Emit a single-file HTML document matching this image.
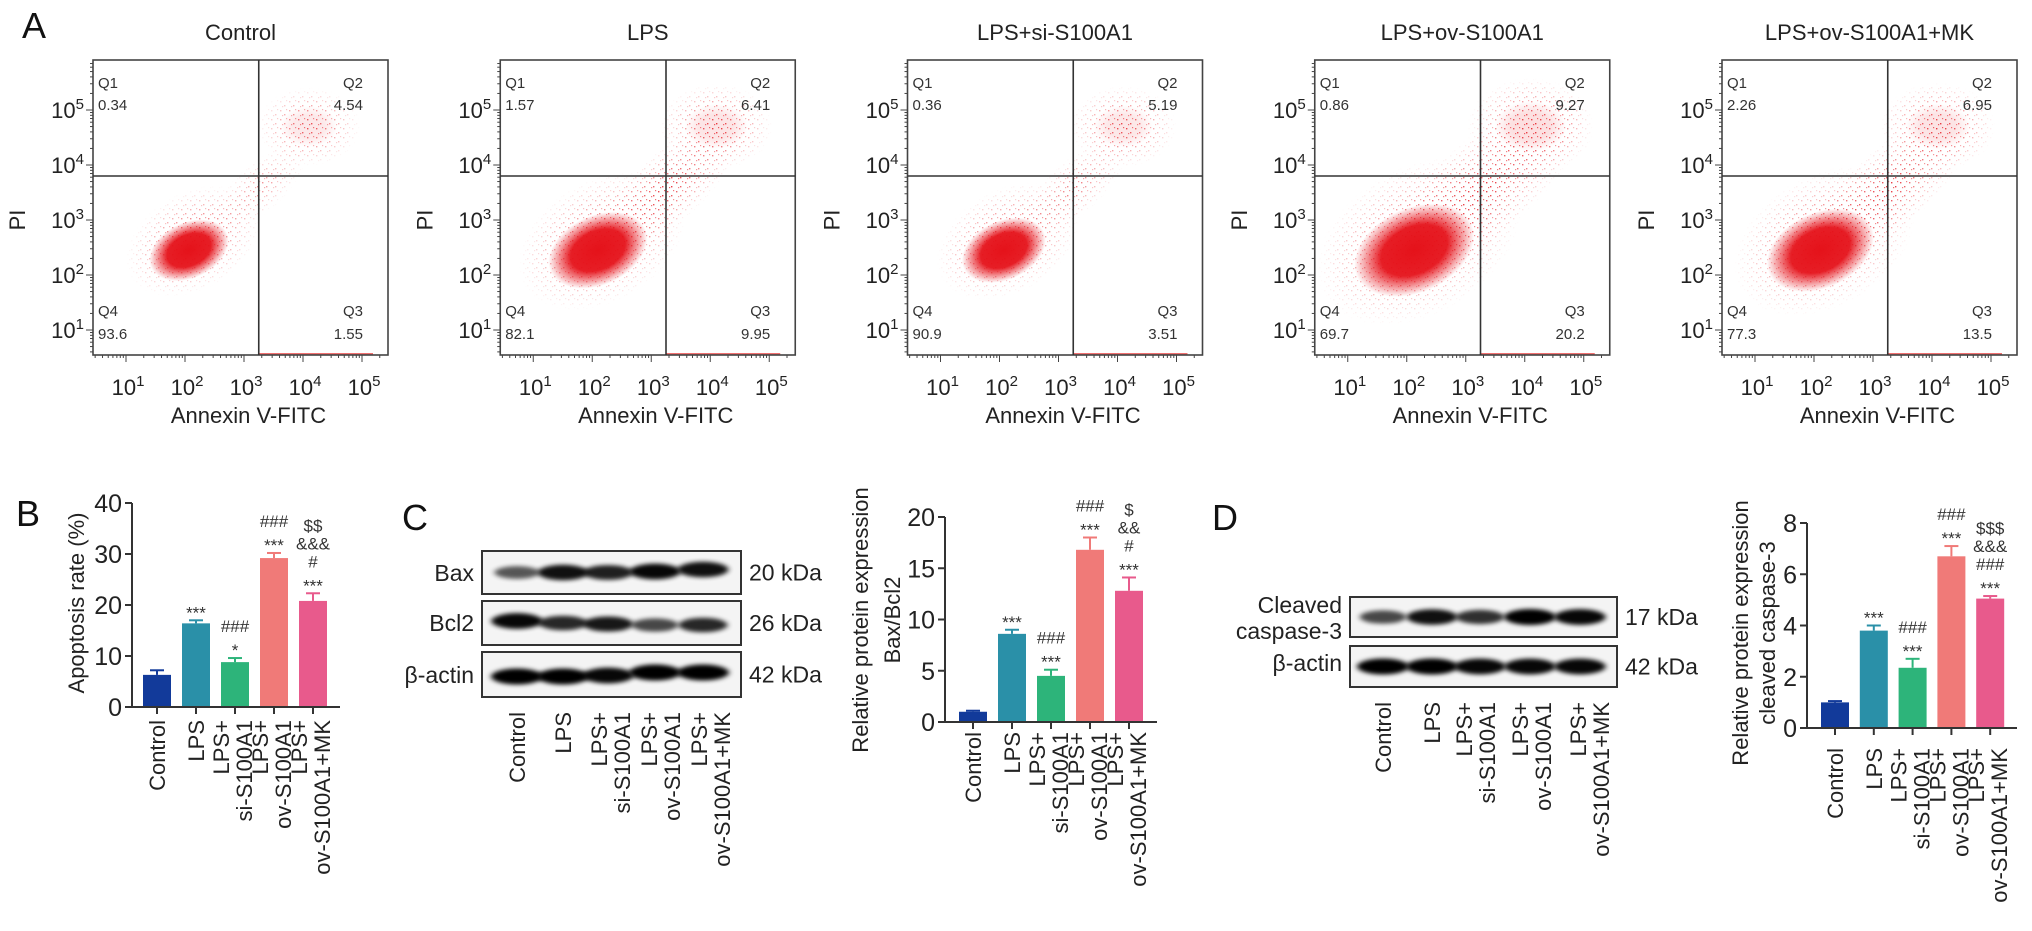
<!DOCTYPE html>
<html><head><meta charset="utf-8"><style>
html,body{margin:0;padding:0;background:#fff;}
svg{display:block;font-family:"Liberation Sans",Arial,sans-serif;}
</style></head><body>
<svg id="fig" width="2032" height="931" viewBox="0 0 2032 931" xmlns="http://www.w3.org/2000/svg">
<defs>
<radialGradient id="coreG"><stop offset="0" stop-color="#e5121a" stop-opacity="1"/><stop offset="0.55" stop-color="#e5121a" stop-opacity="0.95"/><stop offset="1" stop-color="#e5121a" stop-opacity="0"/></radialGradient>
<radialGradient id="haloG"><stop offset="0" stop-color="#fff" stop-opacity="1"/><stop offset="1" stop-color="#fff" stop-opacity="0"/></radialGradient>
<pattern id="speck" width="9" height="9" patternUnits="userSpaceOnUse">
<rect x="1" y="2" width="1.4" height="1.4" fill="#e8323a"/><rect x="5" y="6" width="1.4" height="1.4" fill="#e8323a"/><rect x="7" y="1" width="1.2" height="1.2" fill="#ee5a60"/><rect x="3" y="7" width="1.2" height="1.2" fill="#ee5a60"/>
</pattern>
<filter id="bandBlur" x="-30%" y="-100%" width="160%" height="300%"><feGaussianBlur stdDeviation="3 2.2"/></filter>
</defs>
<g id="root"></g>
</svg>
<script>
// ---------- Panel A data ----------
const groups = ['Control','LPS','LPS+si-S100A1','LPS+ov-S100A1','LPS+ov-S100A1+MK'];
const q1Vals = [0.34,1.57,0.36,0.86,2.26];
const q2Vals = [4.54,6.41,5.19,9.27,6.95];
const q3Vals = [1.55,9.95,3.51,20.2,13.5];
const q4Vals = [93.6,82.1,90.9,69.7,77.3];
const logTicks = [1,2,3,4,5];

// ---------- Bar chart data ----------
const barCats = ['Control','LPS','LPS+ si-S100A1','LPS+ ov-S100A1','LPS+ ov-S100A1+MK'];
const apoptosisVals = [6.3,16.4,8.8,29.2,20.8];
const apoptosisErr = [0.9,0.6,0.8,1.0,1.5];
const apoptosisSig = [[],['***'],['###','*'],['###','***'],['$$','&&&','#','***']];
const apoptosisTicks = [0,10,20,30,40];

const baxBcl2Vals = [1.0,8.6,4.5,16.8,12.8];
const baxBcl2Err = [0.1,0.4,0.6,1.2,1.3];
const baxBcl2Sig = [[],['***'],['###','***'],['###','***'],['$','&&','#','***']];
const baxBcl2Ticks = [0,5,10,15,20];

const casp3Vals = [1.0,3.8,2.35,6.7,5.05];
const casp3Err = [0.05,0.2,0.35,0.4,0.1];
const casp3Sig = [[],['***'],['###','***'],['###','***'],['$$$','&&&','###','***']];
const casp3Ticks = [0,2,4,6,8];

// blot band intensities (0-1)
const baxBand = [0.45,0.9,0.8,0.95,0.9];
const bcl2Band = [0.95,0.75,0.85,0.55,0.75];
const actinCBand = [1,1,0.95,1,1];
const cleavedBand = [0.55,0.9,0.7,1,0.95];
const actinDBand = [1,1,0.95,0.95,0.95];

const barColors = ['#123a9a','#2a90a8','#2db47a','#f07a78','#e85a8c'];

const NS='http://www.w3.org/2000/svg';
const root=document.getElementById('root');
function el(tag,attrs,parent,text){const e=document.createElementNS(NS,tag);for(const k in attrs)e.setAttribute(k,attrs[k]);if(text!==undefined)e.textContent=text;(parent||root).appendChild(e);return e;}

// panel letters
[['A',22,38],['B',16,526],['C',402,530],['D',1212,530]].forEach(([t,x,y])=>{
  const e=el('text',{x:x,y:y,'font-size':36,fill:'#111'},root,t);
  
  
});

// ---------- Panel A ----------
const PW=295,PH=295,PT=60;
function pow10(g,x,y,exp,anchor){
  const t=el('text',{x:x,y:y,'font-size':22,fill:'#222','text-anchor':anchor||'middle'},g);
  el('tspan',{},t,'10');
  el('tspan',{dy:-9,'font-size':15},t,String(exp));
  return t;
}
groups.forEach((name,i)=>{
  const L=93+i*407.25;
  const g=el('g',{},root);
  
  
  const xs=v=>L+33+(v-1)*59; // v = log10
  const ys=v=>110+(5-v)*55;
  const gateX=xs(3.25), gateY=ys(3.8);
  const tt=el('text',{x:L+PW/2,y:40,'font-size':22,'text-anchor':'middle',fill:'#222'},g,name);
  
  
  const cid='clip'+i;
  const cp=el('clipPath',{id:cid},g);el('rect',{x:L,y:PT,width:PW,height:PH},cp);
  const sc=el('g',{'clip-path':'url(#'+cid+')'},g);
  
  
  const cx=xs(2.05)+ (100-q4Vals[i])*0.15, cy=ys(2.45);
  const spread=1+(100-q4Vals[i])/40;
  const mid='mask'+i;
  const m=el('mask',{id:mid},g);
  el('ellipse',{cx:cx+8,cy:cy-6,rx:62*spread,ry:42*spread,fill:'url(#haloG)',transform:`rotate(-30 ${cx} ${cy})`},m);
  const dx=xs(4.1), dy=ys(4.7);
  el('ellipse',{cx:(cx+dx)/2+10,cy:(cy+dy)/2,rx:40+ (q2Vals[i]+q3Vals[i])*3.2,ry:22+q3Vals[i]*1.3,fill:'url(#haloG)',transform:`rotate(-42 ${(cx+dx)/2+10} ${(cy+dy)/2})`,opacity:Math.min(1,0.35+(q2Vals[i]+q3Vals[i])/25)},m);
  el('ellipse',{cx:dx,cy:dy,rx:40+q2Vals[i]*2.5,ry:30+q2Vals[i]*2,fill:'url(#haloG)',opacity:Math.min(1,0.6+q2Vals[i]/15)},m);
  el('rect',{x:L,y:PT,width:PW,height:PH,fill:'url(#speck)',mask:'url(#'+mid+')'},sc);
  el('ellipse',{cx:cx,cy:cy,rx:36*spread,ry:24*spread,fill:'url(#coreG)',transform:`rotate(-25 ${cx} ${cy})`},sc);
  el('ellipse',{cx:dx,cy:dy,rx:22+q2Vals[i]*1.5,ry:16+q2Vals[i],fill:'url(#coreG)',opacity:0.06+q2Vals[i]/120},sc);
  el('line',{x1:gateX,y1:PT+PH-1,x2:L+PW-15,y2:PT+PH-1,stroke:'#f07070','stroke-width':2},sc);
  const box=el('rect',{x:L,y:PT,width:PW,height:PH,fill:'none',stroke:'#444','stroke-width':1.6},g);
  
  
  el('line',{x1:gateX,y1:PT,x2:gateX,y2:PT+PH,stroke:'#333','stroke-width':1.6},g);
  el('line',{x1:L,y1:gateY,x2:L+PW,y2:gateY,stroke:'#333','stroke-width':1.6},g);
  for(let d=0;d<=5;d++){for(let k=1;k<10;k++){const v=d+Math.log10(k);
    if(v>=0.6&&v<=5.9){const yy=ys(v);el('line',{x1:L-(k===1?7:3),y1:yy,x2:L,y2:yy,stroke:'#444','stroke-width':1},g);}
    const xv=xs(v); if(xv>L&&xv<L+PW){el('line',{x1:xv,y1:PT+PH,x2:xv,y2:PT+PH+(k===1?7:3),stroke:'#444','stroke-width':1},g);}
  }}
  logTicks.forEach(t=>{
    const a=pow10(g,L-9,ys(t)+8,t,'end');
    
    
    const b=pow10(g,xs(t)+2,PT+PH+40,t,'middle');
    
    
  });
  const yl=el('text',{x:0,y:0,'font-size':22,'text-anchor':'middle',fill:'#222',transform:`translate(${L-68},${ys(3)}) rotate(-90)`},g,'PI');
  
  
  const xl=el('text',{x:L+PW/2+8,y:PT+PH+68,'font-size':22,'text-anchor':'middle',fill:'#222'},g,'Annexin V-FITC');
  
  
  const qs=[['Q1',L+5,88,'start'],[q1Vals[i].toString(),L+5,110,'start'],['Q2',L+270,88,'end'],[q2Vals[i].toString(),L+270,110,'end'],
            ['Q4',L+5,316,'start'],[q4Vals[i].toString(),L+5,339,'start'],['Q3',L+270,316,'end'],[q3Vals[i].toString(),L+270,339,'end']];
  qs.forEach(q=>{const e=el('text',{x:q[1],y:q[2],'font-size':15,'text-anchor':q[3],fill:'#333'},g,q[0]);
    
    });
});

// ---------- bar chart helper ----------
function catLabels(g,centers,topY){
  barCats.forEach((c,i)=>{
    const parts=c.split(' ');
    const n=parts.length;
    parts.forEach((p,j)=>{
      const off=(n===1)?0:(j===0?-14:9);
      const x=centers[i]+off+8;
      const e=el('text',{x:0,y:0,'font-size':22,'text-anchor':'end',fill:'#222',transform:`translate(${x},${topY}) rotate(-90)`},g,p);
      
      
    });
  });
}
function barChart(o){
  const g=el('g',{},root);
  
  
  const max=o.ticks[o.ticks.length-1];
  const yv=v=>o.zeroY-(v/max)*(o.zeroY-o.topY);
  const centers=o.vals.map((_,i)=>o.x0+o.step*i);
  o.vals.forEach((v,i)=>{
    const c=centers[i],col=barColors[i];
    const r=el('rect',{x:c-14,y:yv(v),width:28,height:o.zeroY-yv(v),fill:col},g);
    
    
    const et=yv(v+o.err[i]);
    const eb=el('line',{x1:c,y1:yv(v),x2:c,y2:et,stroke:col,'stroke-width':2},g);
    
    
    el('line',{x1:c-7,y1:et,x2:c+7,y2:et,stroke:col,'stroke-width':2},g);
    const sig=o.sig[i];
    sig.forEach((s,j)=>{
      const yy=et-8-(sig.length-1-j)*18;
      const st=el('text',{x:c,y:yy+(s.startsWith('*')?6:0),'font-size':17,'text-anchor':'middle',fill:'#333'},g,s);
      
      
    });
    el('line',{x1:c,y1:o.zeroY,x2:c,y2:o.zeroY+7,stroke:'#333','stroke-width':2},g);
  });
  const ya=el('line',{x1:o.axisX,y1:o.topY,x2:o.axisX,y2:o.zeroY,stroke:'#333','stroke-width':2},g);
  
  
  const xa=el('line',{x1:o.axisX,y1:o.zeroY,x2:o.axisEnd,y2:o.zeroY,stroke:'#333','stroke-width':2},g);
  
  
  o.ticks.forEach(t=>{
    el('line',{x1:o.axisX-7,y1:yv(t),x2:o.axisX,y2:yv(t),stroke:'#333','stroke-width':2},g);
    const tl=el('text',{x:o.axisX-10,y:yv(t)+9,'font-size':25,'text-anchor':'end',fill:'#222'},g,String(t));
    
    
  });
  o.titles.forEach(([txt,x])=>{
    const e=el('text',{x:0,y:0,'font-size':22,'text-anchor':'middle',fill:'#222',transform:`translate(${x},${o.titleY}) rotate(-90)`},g,txt);
    
    
  });
  catLabels(g,centers,o.labelTop);
}
barChart({name:'apoptosis-chart',vals:apoptosisVals,err:apoptosisErr,sig:apoptosisSig,ticks:apoptosisTicks,
  axisX:132,axisEnd:340,zeroY:707,topY:503,x0:157,step:39,titles:[['Apoptosis rate (%)',84]],titleY:603,labelTop:720});
barChart({name:'bax-bcl2-chart',vals:baxBcl2Vals,err:baxBcl2Err,sig:baxBcl2Sig,ticks:baxBcl2Ticks,
  axisX:945,axisEnd:1157,zeroY:722,topY:517,x0:973,step:39,titles:[['Relative protein expression',868],['Bax/Bcl2',900]],titleY:620,labelTop:732});
barChart({name:'cleaved-caspase3-chart',vals:casp3Vals,err:casp3Err,sig:casp3Sig,ticks:casp3Ticks,
  axisX:1807,axisEnd:2017,zeroY:728,topY:523,x0:1835,step:38.8,titles:[['Relative protein expression',1748],['cleaved caspase-3',1775]],titleY:633,labelTop:748});

// ---------- Western blots ----------
function blot(name,x,y,w,h,lanes,bands,label,labelLines,kda,offs){
  const g=el('g',{},root);
  
  
  const b=el('rect',{x:x,y:y,width:w,height:h,fill:'#f4f4f4',stroke:'#333','stroke-width':2},g);
  
  
  bands.forEach((v,i)=>{
    const e=el('ellipse',{cx:lanes[i],cy:y+h/2+(offs?offs[i]:0),rx:20+v*6,ry:5+v*3,fill:'#000',opacity:0.35+v*0.65,filter:'url(#bandBlur)'},g);
    
    
  });
  labelLines.forEach(([t,ly])=>{
    const e=el('text',{x:x-8,y:ly,'font-size':23,'text-anchor':'end',fill:'#222'},g,t);
    
    
  });
  const k=el('text',{x:x+w+8,y:y+h/2+8,'font-size':23,fill:'#222'},g,kda);
  
  
}
const lanesC=[517,563,608,655,703];
blot('bax-blot',482,551,259,43,lanesC,baxBand,'Bax',[['Bax',581]],'20 kDa',[0,0,0,-1,-3]);
blot('bcl2-blot',482,601,259,44,lanesC,bcl2Band,'Bcl2',[['Bcl2',631]],'26 kDa',[-2,0,1,2,2]);
blot('actin-blot-c',482,652,259,45,lanesC,actinCBand,'β-actin',[['β-actin',683]],'42 kDa',[2,2,1,-2,-2]);
const gC=el('g',{},root);


catLabels(gC,lanesC.map((c,i)=>c+[0,0,5,8,10][i]),712);

const lanesD=[1383,1432,1480,1530,1580];
blot('cleaved-caspase3-blot',1350,597,267,40,lanesD,cleavedBand,'Cleaved caspase-3',[['Cleaved',613],['caspase-3',639]],'17 kDa',[0,0,0,0,0]);
blot('actin-blot-d',1350,646,267,41,lanesD,actinDBand,'β-actin',[['β-actin',671]],'42 kDa',[0,0,0,0,0]);
const gD=el('g',{},root);


catLabels(gD,lanesD.map((c,i)=>c+[0,0,-2,4,12][i]),702);
</script>
</body></html>
